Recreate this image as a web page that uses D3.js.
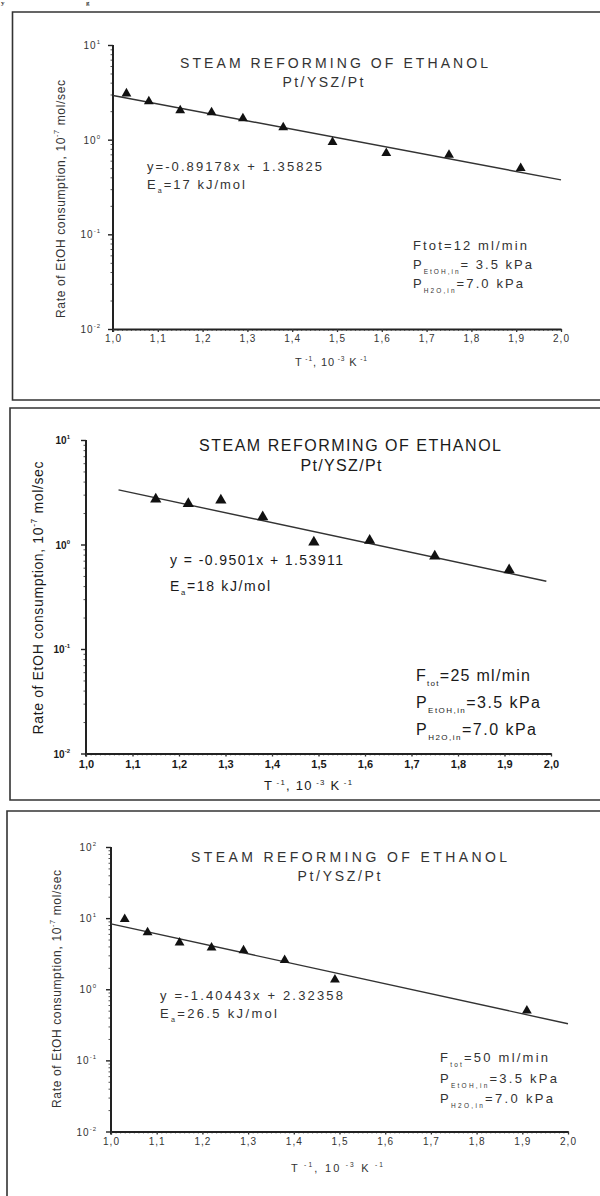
<!DOCTYPE html>
<html><head><meta charset="utf-8">
<script src="https://cdn.jsdelivr.net/npm/d3@7"></script>
<style>body{margin:0;background:#fff;} svg{display:block;font-family:"Liberation Sans",Arial,sans-serif;}</style>
</head><body>
<script>
// ---------- data ----------
const xTickValues = [1.0,1.1,1.2,1.3,1.4,1.5,1.6,1.7,1.8,1.9,2.0];
const xTickLabels = ["1,0","1,1","1,2","1,3","1,4","1,5","1,6","1,7","1,8","1,9","2,0"];

const p1Exponents = [-2,-1,0,1];
const p1X = [1.03,1.08,1.15,1.22,1.29,1.38,1.49,1.61,1.75,1.91];
const p1Y = [3.07,2.53,2.04,1.94,1.68,1.35,0.94,0.72,0.69,0.50];
const p1Fit = [-0.89178, 1.35825];
const p1FitRange = [1.0, 2.0];
const p1Texts = {eq:"y=-0.89178x + 1.35825", ea:"=17 kJ/mol", f:"=12 ml/min", e:"= 3.5 kPa", h:"=7.0 kPa"};

const p2Exponents = [-2,-1,0,1];
const p2X = [1.15,1.22,1.29,1.38,1.49,1.61,1.75,1.91];
const p2Y = [2.71,2.46,2.65,1.83,1.05,1.09,0.77,0.57];
const p2Fit = [-0.9501, 1.53911];
const p2FitRange = [1.07, 1.99];
const p2Texts = {eq:"y = -0.9501x + 1.53911", ea:"=18 kJ/mol", e:"=3.5 kPa", h:"=7.0 kPa", f:"=25 ml/min"};

const p3Exponents = [-2,-1,0,1,2];
const p3X = [1.03,1.08,1.15,1.22,1.29,1.38,1.49,1.91];
const p3Y = [9.7,6.3,4.53,3.85,3.52,2.57,1.36,0.50];
const p3Fit = [-1.40443, 2.32358];
const p3FitRange = [1.0, 2.0];
const p3Texts = {eq:"y =-1.40443x + 2.32358", ea:"=26.5 kJ/mol", e:"=3.5 kPa", h:"=7.0 kPa", f:"=50 ml/min"};

// ---------- drawing ----------
const svg = d3.select("body").append("svg").attr("width",600).attr("height",1196);

// small fragment of text from the page above
svg.append("text").attr("x",1).attr("y",5).attr("font-family","Liberation Serif").attr("font-weight","bold").attr("font-size",7).attr("fill","#333").text("y");
svg.append("text").attr("x",86).attr("y",5).attr("font-family","Liberation Serif").attr("font-weight","bold").attr("font-size",7).attr("fill","#333").text("g");

function frame(left, top, bottom){
  svg.append("path").attr("d",`M604,${top}H${left}V${bottom}H604`).attr("fill","none").attr("stroke","#333").attr("stroke-width",1.6);
}
frame(12.5,12,400);
frame(10,408,800);
frame(7,811,1200);

// parts: strings (baseline) or {t, s, shift} (shift<0 = up)
function txt(g, x, y, parts, o){
  const t = g.append("text").attr("x",x).attr("y",y).attr("font-size",o.size).attr("fill",o.fill||"#2a2a2a")
    .attr("font-weight",o.weight||"normal").attr("text-anchor",o.anchor||"start");
  if(o.len){ t.attr("textLength",o.len).attr("lengthAdjust","spacing"); }
  if(o.rotate){ t.attr("transform",`rotate(-90,${x},${y})`); }
  let cur = 0;
  parts.forEach(p=>{
    if(typeof p==="string"){
      const ts = t.append("tspan").text(p).attr("font-size",o.size);
      if(cur!==0){ ts.attr("dy",-cur); cur=0; }
    } else {
      const ts = t.append("tspan").text(p.t).attr("font-size",p.s);
      ts.attr("dy",p.shift-cur); cur = p.shift;
    }
  });
  return t;
}
const sup = (t,size,up)=>({t:t,s:size,shift:-up});
const sub = (t,size,down)=>({t:t,s:size,shift:down});

function drawPanel(c){
  const g = svg.append("g");
  const x = d3.scaleLinear().domain([1,2]).range(c.xr);
  const ymin = Math.pow(10,c.exps[0]), ymax = Math.pow(10,c.exps[c.exps.length-1]);
  const y = d3.scaleLog().domain([ymin,ymax]).range(c.yr);

  // minor y ticks
  const minors = [];
  for(let e=c.exps[0]; e<c.exps[c.exps.length-1]; e++) for(let m=2;m<=9;m++) minors.push(m*Math.pow(10,e));
  g.append("g").attr("transform",`translate(${c.xr[0]},0)`)
    .call(d3.axisLeft(y).tickValues(minors).tickSize(2.5).tickFormat(""))
    .call(s=>{s.select(".domain").remove(); s.selectAll("line").attr("stroke","#555").attr("stroke-width",1); s.selectAll("text").remove();});
  // minor x ticks
  g.append("g").attr("transform",`translate(0,${c.yr[0]})`)
    .call(d3.axisBottom(x).tickValues(d3.range(100,201,1).map(v=>v/100)).tickSize(2).tickFormat(""))
    .call(s=>{s.select(".domain").remove(); s.selectAll("line").attr("stroke","#666").attr("stroke-width",0.9); s.selectAll("text").remove();});
  // major y axis
  const ya = g.append("g").attr("transform",`translate(${c.xr[0]},0)`)
    .call(d3.axisLeft(y).tickValues(c.exps.map(e=>Math.pow(10,e))).tickSize(5).tickSizeOuter(0).tickFormat(""));
  ya.selectAll("text").remove();
  ya.select(".domain").attr("stroke","#222").attr("stroke-width",2).attr("d",`M0,${c.yr[1]}V${c.yr[0]+3}`);
  ya.selectAll("line").attr("stroke","#222").attr("stroke-width",1.4);
  // major x axis
  const xa = g.append("g").attr("transform",`translate(0,${c.yr[0]})`)
    .call(d3.axisBottom(x).tickValues(xTickValues).tickSize(3).tickSizeOuter(0).tickFormat((d,i)=>xTickLabels[i]));
  xa.select(".domain").attr("stroke","#222").attr("stroke-width",2);
  xa.selectAll("line").attr("stroke","#333").attr("stroke-width",1.3);
  xa.selectAll("text").attr("font-family","Liberation Sans, Arial, sans-serif").attr("font-size",c.xtSize)
    .attr("font-weight",c.bold?"bold":"normal").attr("fill",c.fill).attr("letter-spacing",c.bold?0:1)
    .attr("y",c.xtDy).attr("dy",0);

  // y tick labels with superscripts
  c.exps.forEach(e=>{
    const t = g.append("text").attr("x",c.ytX).attr("y",y(Math.pow(10,e))+4).attr("text-anchor","end")
      .attr("font-size",c.ytSize).attr("font-weight",c.bold?"bold":"normal").attr("fill",c.fill).attr("letter-spacing",c.bold?0:1);
    t.append("tspan").text("10").attr("font-size",c.ytSize);
    t.append("tspan").text(String(e)).attr("font-size",c.ytSize*0.6).attr("dy",-5);
  });

  // fit line
  const f = v => Math.pow(10, c.fit[0]*v + c.fit[1]);
  g.append("path").datum(c.fitRange)
    .attr("d", d3.line().x(v=>x(v)).y(v=>y(f(v))))
    .attr("fill","none").attr("stroke","#333").attr("stroke-width",1.4);

  // points
  g.selectAll("path.pt").data(c.px.map((v,i)=>[v,c.py[i]])).join("path").attr("class","pt")
    .attr("transform",d=>`translate(${x(d[0])},${y(d[1])})`)
    .attr("d", d3.symbol(d3.symbolTriangle, c.symSize)).attr("fill","#111");

  // titles
  txt(g, c.title[0], c.title[1], ["STEAM REFORMING OF ETHANOL"], {size:c.titleSize, anchor:"middle", len:c.title[2], fill:c.fill});
  txt(g, c.sub[0], c.sub[1], ["Pt/YSZ/Pt"], {size:c.titleSize, anchor:"middle", len:c.sub[2], fill:c.fill});

  // axis titles
  txt(g, c.yt[0], c.yt[1], ["Rate of EtOH consumption, 10", sup("-7",c.ytitleSize*0.6,6), " mol/sec"],
      {size:c.ytitleSize, anchor:"middle", len:c.yt[2], rotate:true, fill:c.fill});
  const xs = c.xtitleSize*0.6;
  txt(g, c.xt[0], c.xt[1], ["T", sup(" -1",xs,5), ", 10", sup(" -3",xs,5), " K", sup(" -1",xs,5)],
      {size:c.xtitleSize, anchor:"middle", len:c.xt[2], fill:c.fill});

  // equation
  txt(g, c.eq[0], c.eq[1], [c.tx.eq], {size:c.eqSize, len:c.eq[2], fill:c.fill});
  txt(g, c.ea[0], c.ea[1], ["E", sub("a",c.eqSize*0.55,4), c.tx.ea], {size:c.eqSize, len:c.ea[2], fill:c.fill});

  // conditions
  const as = c.annSize*0.5;
  const fParts = c.ftotPlain ? ["Ftot" + c.tx.f] : ["F", sub("tot",as,5), c.tx.f];
  txt(g, c.ann[0], c.ann[1], fParts, {size:c.annSize, len:c.annLen[0], fill:c.fill});
  txt(g, c.ann[0], c.ann[1]+c.ann[2], ["P", sub("EtOH,in",as,5), c.tx.e], {size:c.annSize, len:c.annLen[1], fill:c.fill});
  txt(g, c.ann[0], c.ann[1]+2*c.ann[2], ["P", sub("H2O,in",as,5), c.tx.h], {size:c.annSize, len:c.annLen[2], fill:c.fill});
}

drawPanel({
  xr:[113,561], yr:[329,45], exps:p1Exponents, px:p1X, py:p1Y, fit:p1Fit, fitRange:p1FitRange, tx:p1Texts,
  bold:false, fill:"#333", xtSize:10, xtDy:13, ytSize:10, ytX:101, symSize:42,
  title:[334,68,308], sub:[323,87,81], titleSize:14,
  yt:[65,199,238], ytitleSize:12, xt:[331,366,72], xtitleSize:11,
  eq:[147,171,175], ea:[147,189,98], eqSize:13,
  ann:[413,250,19], annLen:[114,119,110], annSize:13, ftotPlain:true
});
drawPanel({
  xr:[86,551], yr:[753.5,440], exps:p2Exponents, px:p2X, py:p2Y, fit:p2Fit, fitRange:p2FitRange, tx:p2Texts,
  bold:true, fill:"#1a1a1a", xtSize:11, xtDy:14, ytSize:10, ytX:70, symSize:55,
  title:[350,451,302], sub:[341,471,81], titleSize:16,
  yt:[43,598,273], ytitleSize:14, xt:[308,790,88], xtitleSize:13,
  eq:[170,565,173], ea:[170,591,100], eqSize:14,
  ann:[416,681,27], annLen:[114,124,120], annSize:16, ftotPlain:false
});
drawPanel({
  xr:[111,568], yr:[1131.5,847], exps:p3Exponents, px:p3X, py:p3Y, fit:p3Fit, fitRange:p3FitRange, tx:p3Texts,
  bold:false, fill:"#333", xtSize:10, xtDy:13, ytSize:10, ytX:97, symSize:42,
  title:[349,862,316], sub:[339,881,83], titleSize:14,
  yt:[61,989,238], ytitleSize:12, xt:[337,1172,92], xtitleSize:11,
  eq:[160,1000,183], ea:[160,1018,117], eqSize:13,
  ann:[440,1062,20.5], annLen:[108,117,113], annSize:13, ftotPlain:false
});
</script>
</body></html>
